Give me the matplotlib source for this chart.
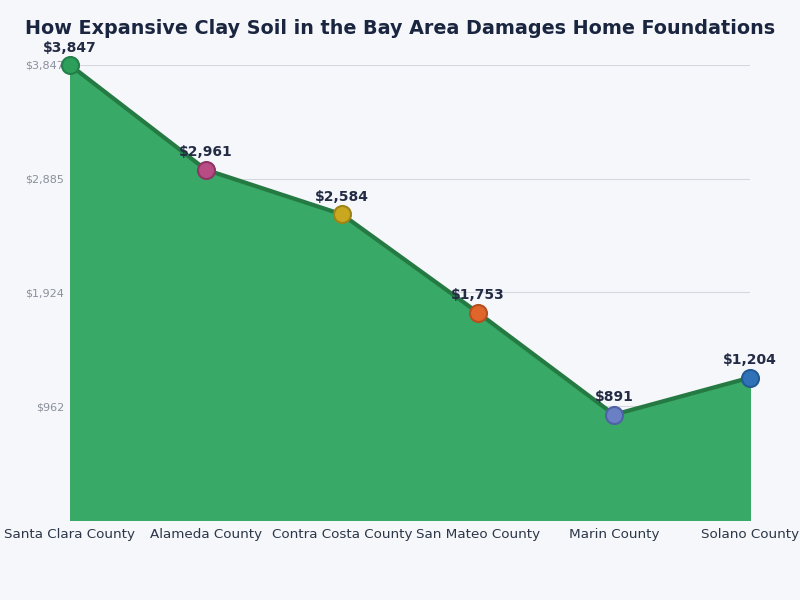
import numpy as np
import matplotlib.pyplot as plt

counties = ["Santa Clara County", "Alameda County", "Contra Costa County",
            "San Mateo County", "Marin County", "Solano County"]
costs = [3847, 2961, 2584, 1753, 891, 1204]
marker_colors = ["#2e9e5b", "#b84c85", "#c9a81f", "#e0652b", "#6a7fc4", "#2f72b8"]
edge_colors = ["#24804a", "#8e3566", "#9e8418", "#b44f1f", "#4f62a6", "#235a94"]
yticks = [962, 1924, 2885, 3847]

bg = "#f5f7fa"
fig = plt.figure(figsize=(8, 6), dpi=100, facecolor=bg)
ax = fig.add_axes([0.0875, 0.1333, 0.85, 0.7584])
ax.set_facecolor(bg)

x = np.arange(len(counties))
ax.fill_between(x, 0, costs, color="#38a966", zorder=2)
ax.plot(x, costs, color="#257a43", lw=3, zorder=3, solid_capstyle="round")
for i in range(len(x)):
    ax.scatter(x[i], costs[i], s=150, color=marker_colors[i], edgecolors=edge_colors[i],
               linewidths=1.5, zorder=4, clip_on=False)
    ax.annotate("${:,}".format(costs[i]), (x[i], costs[i]), xytext=(0, 7.5),
                textcoords="offset points", ha="center", va="bottom",
                fontsize=10, fontweight="bold", color="#232b45", zorder=5)

ax.set_xlim(0, len(counties) - 1)
ax.set_ylim(0, 3847)
ax.set_xticks(x)
ax.set_xticklabels(counties, fontsize=9.7, color="#2d3748")
ax.set_yticks(yticks)
ax.set_yticklabels(["${:,}".format(v) for v in yticks], fontsize=8, color="#8a8f9c")
ax.tick_params(axis="x", length=0, pad=6)
ax.tick_params(axis="y", length=0, pad=4)
ax.grid(axis="y", color="#d5d8de", lw=0.8, zorder=1)
for s in ax.spines.values():
    s.set_visible(False)

fig.text(0.5, 0.953, "How Expansive Clay Soil in the Bay Area Damages Home Foundations",
         ha="center", va="center", fontsize=13.8, fontweight="bold", color="#1a2540")

fig.savefig("out.png", dpi=100, facecolor=bg)
